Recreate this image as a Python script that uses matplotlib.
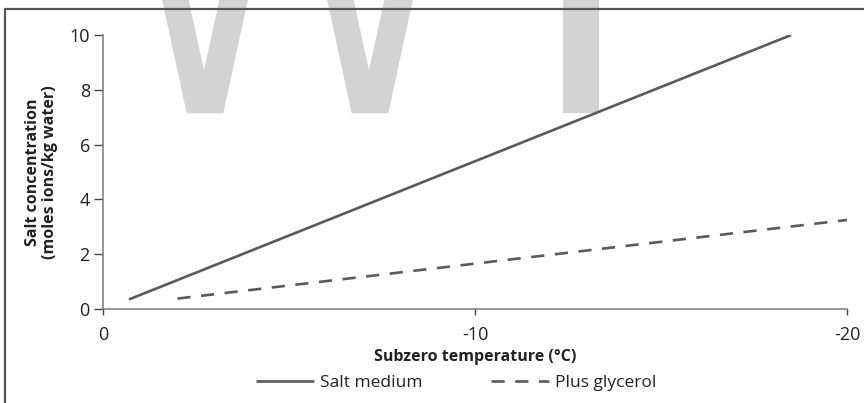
import matplotlib
matplotlib.use('Agg')
import matplotlib.pyplot as plt
from matplotlib.patches import Polygon
from matplotlib.lines import Line2D

# values
salt_temp = [-0.7, -18.5]
salt_conc = [0.35, 10.0]
glycerol_temp = [-2.0, -20.0]
glycerol_conc = [0.38, 3.25]
x_ticks = [0, -10, -20]
y_ticks = [0, 2, 4, 6, 8, 10]

W, H = 864, 403
plt.rcParams['font.family'] = ['Open Sans', 'DejaVu Sans']
line_col = '#5a5a5a'
axis_col = '#7a7a7a'

fig = plt.figure(figsize=(W / 100, H / 100), dpi=100)


def px(x, y):
    return (x / W, 1 - y / H)


# grey watermark behind the plot
wm = '#d3d3d3'
v_shape = [(160, -10), (186.5, -10), (204, 70), (221.5, -10), (250, -10),
           (223.3, 113.3), (186.7, 113.3)]
for dx in (0, 165):
    fig.patches.append(Polygon([px(x + dx, y) for x, y in v_shape], closed=True,
                               transform=fig.transFigure, facecolor=wm,
                               edgecolor='none', zorder=0))
fig.patches.append(Polygon([px(563, -10), px(599, -10), px(599, 113.3), px(563, 113.3)],
                           closed=True, transform=fig.transFigure, facecolor=wm,
                           edgecolor='none', zorder=0))

# frame around the figure (left and top visible)
fig.lines.append(Line2D([5 / W, 5 / W, 1.0], [0.0, 1 - 9 / H, 1 - 9 / H],
                        transform=fig.transFigure, color='#555555', lw=1.6, zorder=1))

ax = fig.add_axes([103 / W, 1 - 309 / H, (847 - 103) / W, (309 - 35) / H])
ax.set_facecolor('none')
ax.set_zorder(2)

ax.plot(salt_temp, salt_conc, color=line_col, lw=1.9, solid_capstyle='butt',
        label='Salt medium')
ax.plot(glycerol_temp, glycerol_conc, color=line_col, lw=1.9, dashes=(5, 4),
        dash_capstyle='butt', label='Plus glycerol')

ax.set_xlim(0, -20)
ax.set_ylim(0, 10)
ax.set_xticks(x_ticks)
ax.set_xticklabels([str(t) for t in x_ticks])
ax.set_yticks(y_ticks)
ax.set_yticklabels([str(t) for t in y_ticks])

for s in ('top', 'right'):
    ax.spines[s].set_visible(False)
for s in ('left', 'bottom'):
    ax.spines[s].set_color(axis_col)
    ax.spines[s].set_linewidth(1.1)
ax.tick_params(axis='y', direction='out', length=6.5, width=1.0, color='#444444',
               labelsize=13, pad=3, labelcolor='#222222')
ax.tick_params(axis='x', direction='out', length=4.5, width=1.0, color='#444444',
               labelsize=13, pad=8, labelcolor='#222222')

ax.set_xlabel('Subzero temperature (°C)', fontsize=11.5, fontweight='bold',
              labelpad=3, color='#222222')
ax.set_ylabel('Salt concentration\n(moles ions/kg water)', fontsize=11.5,
              fontweight='bold', labelpad=8, linespacing=1.1, color='#222222')

fig.legend(loc='center', bbox_to_anchor=(0.528, 1 - 383 / H), ncol=2,
           frameon=False, fontsize=12.5, handlelength=3.35, columnspacing=3.9,
           handletextpad=0.35, labelcolor='#222222')

fig.savefig('out.png', dpi=100)
